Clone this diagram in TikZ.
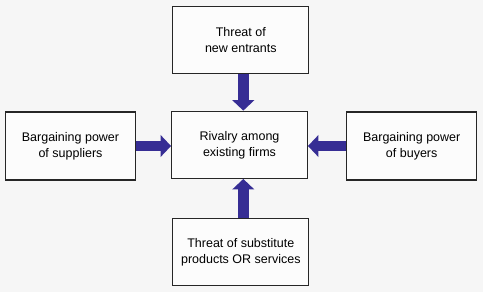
\documentclass[tikz,border=0pt]{standalone}
\usepackage{fontspec}
\setmainfont{Liberation Sans}
\usetikzlibrary{arrows.meta}
\definecolor{arrowblue}{RGB}{54,45,148}
\definecolor{bg}{RGB}{246,246,246}
\tikzset{
  force/.style={draw=black!85, line width=1.3pt, fill=white!70!bg, minimum width=#1, minimum height=67pt, inner sep=0pt, align=center, font=\fontsize{12.5pt}{16pt}\selectfont},
  force/.default=136pt,
  push/.style={draw=arrowblue, line width=10.5pt, -{Triangle[width=21.5pt,length=10.5pt]}}
}
\begin{document}
\begin{tikzpicture}[x=1pt,y=-1pt]
\fill[bg] (0,0) rectangle (483,292);
\useasboundingbox (0,0) rectangle (483,292);
\node[force=136pt] (top) at (240.8,40) {Threat of\\new entrants};
\node[force=135.6pt] (mid) at (239.5,144.8) {Rivalry among\\existing firms};
\node[force=130.4pt, minimum height=68pt] (left) at (70.5,146) {Bargaining power\\of suppliers};
\node[force=130pt, minimum height=68pt] (right) at (411.7,146) {Bargaining power\\of buyers};
\node[force=136pt] (bot) at (240.8,252.2) {Threat of substitute\\products OR services};
\draw[push] (top.south -| 243.3,0) -- (mid.north -| 243.3,0);
\draw[push] (bot.north -| 243.3,0) -- (mid.south -| 243.3,0);
\draw[push] (left.east |- 0,146) -- (mid.west |- 0,146);
\draw[push] (right.west |- 0,146) -- (mid.east |- 0,146);
\end{tikzpicture}
\end{document}
